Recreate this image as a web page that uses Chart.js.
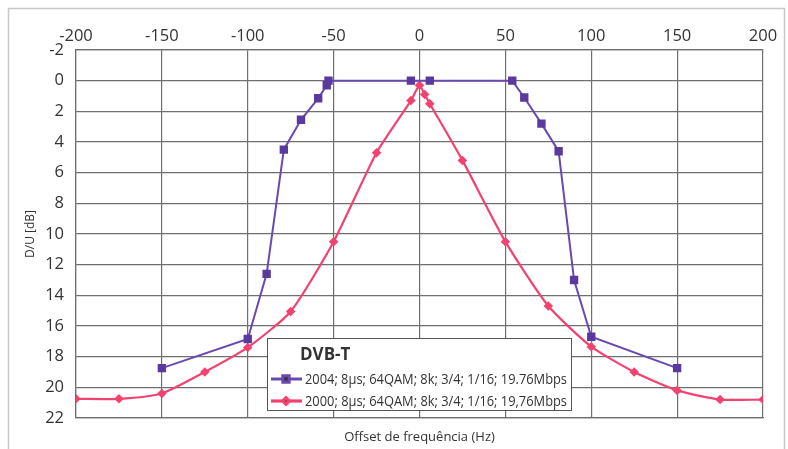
<!DOCTYPE html>
<html>
<head>
<meta charset="utf-8">
<script src="https://cdn.jsdelivr.net/npm/chart.js@4.4.1/dist/chart.umd.min.js"></script>
<style>
  body { margin: 0; background: #fff; }
  #wrap { width: 788px; height: 449px; position: relative; }
</style>
</head>
<body>
<div id="wrap"><canvas id="chart"></canvas></div>
<script>
// offset (Hz) and D/U (dB) for the two DVB-T configurations
const freq2004 = [-150, -100, -89, -79, -69, -59, -54, -53, -5, 6, 54, 61, 71, 81, 90, 100, 150];
const du2004   = [18.75, 16.85, 12.6, 4.5, 2.55, 1.15, 0.3, 0, 0, 0, 0, 1.1, 2.8, 4.6, 13.0, 16.7, 18.75];
const freq2000 = [-200, -175, -150, -125, -100, -75, -50, -25, -5, 0, 3, 6, 25, 50, 75, 100, 125, 150, 175, 200];
const du2000   = [20.75, 20.75, 20.4, 19.0, 17.4, 15.05, 10.5, 4.7, 1.3, 0.3, 0.9, 1.5, 5.2, 10.5, 14.7, 17.35, 19.0, 20.2, 20.8, 20.8];
const legendTitle = 'DVB-T';
const label2004 = '2004; 8\u00b5s; 64QAM; 8k; 3/4; 1/16; 19.76Mbps';
const label2000 = '2000; 8\u00b5s; 64QAM; 8k; 3/4; 1/16; 19,76Mbps';
const xTitle = 'Offset de frequência (Hz)';
const yTitle = 'D/U [dB]';

const purple = '#6a48b0';
const purpleDark = '#5a3a9e';
const pink = '#f2426f';
const gridColor = '#6f6f6f';
const FONT = '"Open Sans", sans-serif';

function toPoints(xs, ys) {
    return xs.map(function(x, i) { return { x: x, y: ys[i] }; });
}

// outer frame around the whole figure
const framePlugin = {
    id: 'frame',
    beforeDraw: function(chart) {
        const ctx = chart.ctx;
        ctx.save();
        ctx.fillStyle = '#fff';
        ctx.fillRect(0, 0, chart.width, chart.height);
        ctx.strokeStyle = '#c8c8c8';
        ctx.lineWidth = 1.5;
        ctx.strokeRect(8.5, 8.5, 776, 460);
        ctx.restore();
    }
};

// boxed legend sitting inside the plot area
const boxLegend = {
    id: 'boxLegend',
    afterDatasetsDraw: function(chart) {
        const ctx = chart.ctx;
        const bx = 267, by = 338, bw = 304, bh = 72;
        ctx.save();
        ctx.fillStyle = '#fff';
        ctx.fillRect(bx, by, bw, bh);
        ctx.strokeStyle = '#555';
        ctx.lineWidth = 1;
        ctx.strokeRect(bx + 0.5, by + 0.5, bw, bh);

        ctx.fillStyle = '#333';
        ctx.font = 'bold 17px ' + FONT;
        ctx.textBaseline = 'middle';
        ctx.textAlign = 'left';
        ctx.fillText(legendTitle, 300, 355);

        const rows = [
            { y: 379, text: label2004, ds: chart.data.datasets[0] },
            { y: 401, text: label2000, ds: chart.data.datasets[1] }
        ];
        rows.forEach(function(r) {
            ctx.strokeStyle = r.ds.borderColor;
            ctx.lineWidth = r.ds.borderWidth + 1;
            ctx.beginPath();
            ctx.moveTo(271, r.y);
            ctx.lineTo(302, r.y);
            ctx.stroke();
            Chart.helpers.drawPoint(ctx, {
                pointStyle: r.ds.pointStyle,
                radius: r.ds.pointRadius,
                borderWidth: 1,
                rotation: 0
            }, 286, r.y);
            ctx.fillStyle = '#333';
            ctx.font = '15px ' + FONT;
            // squeeze the text a little so it stays inside the box
            ctx.fillText(r.text, 305, r.y + 1, 262);
        });
        ctx.restore();
    }
};

const ctx = document.getElementById('chart').getContext('2d');
const myChart = new Chart(ctx, {
    type: 'scatter',
    data: {
        datasets: [{
            label: label2004,
            data: toPoints(freq2004, du2004),
            showLine: true,
            borderColor: purple,
            backgroundColor: purpleDark,
            borderWidth: 2,
            pointStyle: 'rect',
            pointRadius: 4.5,
            pointBorderColor: purpleDark,
            pointBackgroundColor: purpleDark,
            tension: 0
        }, {
            label: label2000,
            data: toPoints(freq2000, du2000),
            showLine: true,
            borderColor: pink,
            backgroundColor: pink,
            borderWidth: 2.2,
            pointStyle: 'rectRot',
            pointRadius: 3.2,
            pointBorderColor: pink,
            pointBackgroundColor: pink,
            tension: 0.2
        }]
    },
    options: {
        responsive: true,
        maintainAspectRatio: false,
        animation: false,
        layout: { padding: { left: 10, right: 25, top: 10, bottom: 0 } },
        plugins: {
            legend: { display: false },
            tooltip: { enabled: false }
        },
        scales: {
            x: {
                type: 'linear',
                position: 'top',
                min: -200,
                max: 200,
                ticks: { stepSize: 50, color: '#333', font: { family: FONT, size: 16.5 }, padding: 4 },
                grid: { color: gridColor, lineWidth: 1.2, drawTicks: false },
                border: { color: gridColor, width: 1.2 },
                afterFit: function(scale) { scale.height = 40; }
            },
            x2: {
                type: 'linear',
                position: 'bottom',
                min: -200,
                max: 200,
                ticks: { display: false },
                grid: { display: false, drawTicks: false },
                border: { color: gridColor, width: 1.2 },
                title: { display: true, text: xTitle, color: '#333', font: { family: FONT, size: 13 }, padding: { top: 10 } },
                afterFit: function(scale) { scale.height = 31; }
            },
            y: {
                reverse: true,
                min: -2,
                max: 22,
                ticks: { stepSize: 2, color: '#333', font: { family: FONT, size: 16.5 }, padding: 12 },
                grid: { color: gridColor, lineWidth: 1.2, drawTicks: false },
                border: { color: gridColor, width: 1.2 },
                title: { display: true, text: yTitle, color: '#333', font: { family: FONT, size: 12 }, padding: { top: 13, bottom: 0 } },
                afterFit: function(scale) { scale.width = 66; }
            }
        }
    },
    plugins: [framePlugin, boxLegend]
});
</script>
</body>
</html>
